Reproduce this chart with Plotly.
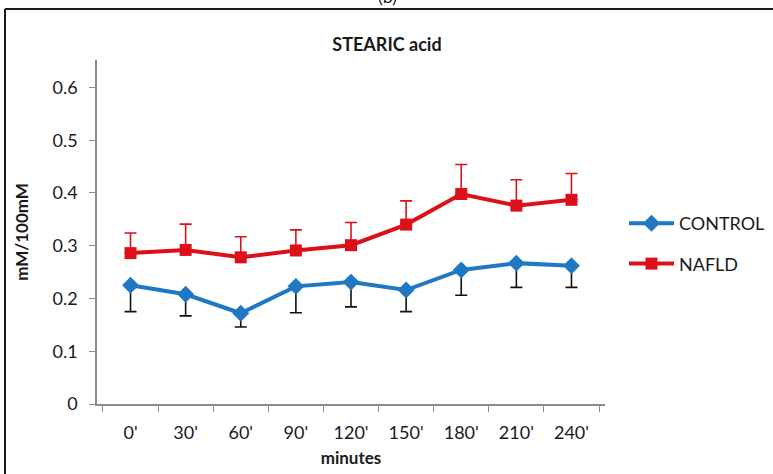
import plotly.graph_objects as go

# Sampling times and group means / standard deviations (mM/100mM)
minutes = ["0'", "30'", "60'", "90'", "120'", "150'", "180'", "210'", "240'"]
control_mean = [0.225, 0.208, 0.172, 0.223, 0.231, 0.216, 0.254, 0.267, 0.262]
control_sd = [0.050, 0.041, 0.026, 0.050, 0.047, 0.041, 0.048, 0.046, 0.041]
nafld_mean = [0.286, 0.292, 0.278, 0.291, 0.301, 0.340, 0.398, 0.376, 0.387]
nafld_sd = [0.038, 0.049, 0.039, 0.039, 0.043, 0.045, 0.056, 0.049, 0.050]
y_ticks = [0, 0.1, 0.2, 0.3, 0.4, 0.5, 0.6]

W, H = 773, 474
L, R, T, B = 97, 168, 60, 70
pw, ph = W - L - R, H - T - B


def px_x(p):
    return (p - L) / pw


def px_y(p):
    return (H - B - p) / ph


BLUE = "#1f78c1"
RED = "#dc1019"
FONT = "Lato, 'Open Sans', sans-serif"

fig = go.Figure()
fig.add_trace(go.Scatter(
    x=minutes, y=control_mean, name="CONTROL", mode="lines+markers",
    line=dict(color=BLUE, width=4),
    marker=dict(symbol="diamond", size=13, color=BLUE),
    error_y=dict(type="data", symmetric=False,
                 array=[0] * len(control_sd), arrayminus=control_sd,
                 color="#111111", thickness=1.6, width=6),
    legendgroup="c",
))
fig.add_trace(go.Scatter(
    x=minutes, y=nafld_mean, name="NAFLD", mode="lines+markers",
    line=dict(color=RED, width=4),
    marker=dict(symbol="square", size=12, color=RED),
    error_y=dict(type="data", symmetric=False,
                 array=nafld_sd, arrayminus=[0] * len(nafld_sd),
                 color=RED, thickness=1.6, width=6),
    legendgroup="n",
))

axis_common = dict(showgrid=False, zeroline=False, showline=True,
                   linecolor="#8c8c8c", linewidth=1.5, automargin=False,
                   ticks="outside", tickcolor="#8c8c8c", ticklen=6,
                   tickfont=dict(family=FONT, size=18, color="#1a1a1a"))

fig.update_layout(
    width=W, height=H,
    margin=dict(l=L, r=R, t=T, b=B, pad=0, autoexpand=False),
    paper_bgcolor="white", plot_bgcolor="white",
    font=dict(family=FONT, color="#1a1a1a"),
    xaxis=dict(**axis_common, type="category", tickson="boundaries",
               ticklabelstandoff=12,
               title=dict(text="<b>minutes</b>", font=dict(size=17), standoff=10)),
    yaxis=dict(**axis_common, range=[0, 0.652], tickvals=y_ticks,
               ticktext=["0", "0.1", "0.2", "0.3", "0.4", "0.5", "0.6"],
               ticklabelstandoff=8,
               title=dict(text="<b>mM/100mM</b>", font=dict(size=17), standoff=20)),
    legend=dict(x=px_x(624), y=px_y(205), xanchor="left", yanchor="top",
                font=dict(family=FONT, size=18, color="#1a1a1a"),
                itemwidth=45, tracegroupgap=14, traceorder="grouped",
                bgcolor="rgba(0,0,0,0)"),
    title=dict(text="<b>STEARIC acid</b>", x=px_x(387), xref="paper",
               y=1 - 45 / H, yanchor="middle",
               font=dict(family=FONT, size=18, color="#1a1a1a")),
    shapes=[
        dict(type="line", xref="paper", yref="paper",
             x0=px_x(5), x1=px_x(W + 2), y0=px_y(9), y1=px_y(9),
             line=dict(color="#1a1a1a", width=2)),
        dict(type="line", xref="paper", yref="paper",
             x0=px_x(5), x1=px_x(5), y0=px_y(9), y1=px_y(H + 2),
             line=dict(color="#1a1a1a", width=2)),
    ],
    annotations=[
        dict(text="(b)", xref="paper", yref="paper", x=px_x(387), y=px_y(-4),
             xanchor="center", yanchor="middle", showarrow=False,
             font=dict(family=FONT, size=18, color="#1a1a1a")),
    ],
)

fig.write_html("out.html")
